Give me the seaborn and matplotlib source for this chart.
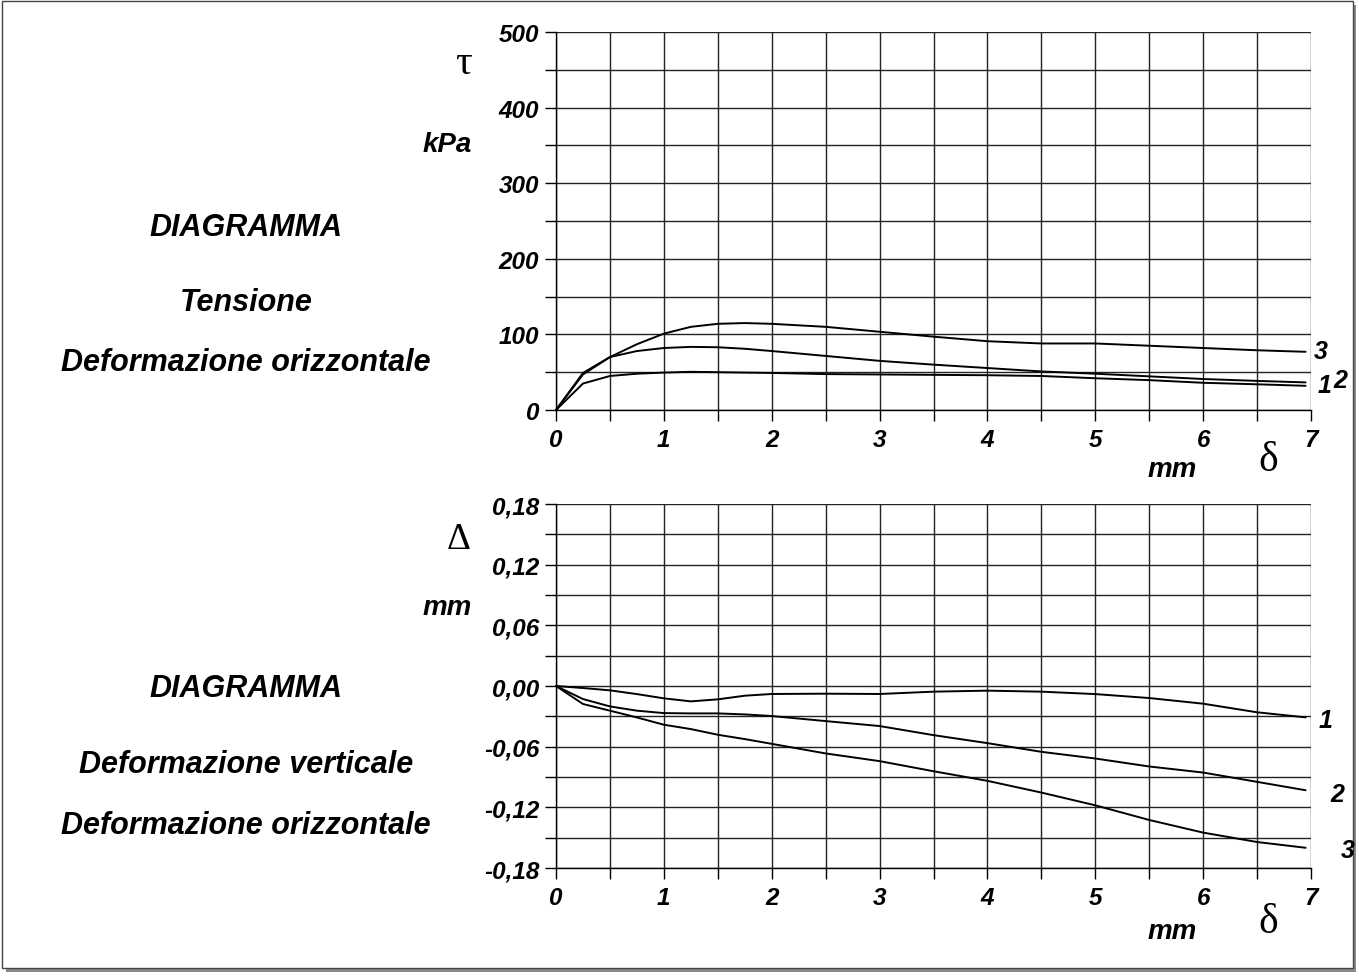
import matplotlib
matplotlib.use("Agg")
import matplotlib.pyplot as plt
import seaborn as sns
import pandas as pd
from matplotlib.patches import Rectangle
from matplotlib.ticker import MultipleLocator, FixedLocator, FixedFormatter

# ---------------- data ----------------
delta_top = [0, 0.25, 0.5, 0.75, 1, 1.25, 1.5, 1.75, 2, 2.5, 3, 3.5, 4, 4.5, 5, 5.5, 6, 6.5, 6.95]
tau_1 = [0, 35, 45, 48, 49.5, 50.5, 50, 49.5, 49, 47.5, 47, 46.5, 46, 45, 42, 39.5, 36, 34, 32]
tau_2 = [0, 47, 70, 78, 82, 83.5, 83, 81, 78, 71.5, 65, 60, 55.5, 51, 48, 44.5, 41, 38.5, 36.5]
tau_3 = [0, 49, 70, 87, 101, 110, 114, 115, 114, 110, 103.5, 97, 91, 88, 88, 85, 82, 79, 77]

delta_bot = [0, 0.25, 0.5, 0.75, 1, 1.25, 1.5, 1.75, 2, 2.5, 3, 3.5, 4, 4.5, 5, 5.5, 6, 6.5, 6.95]
dv_1 = [0, -0.002, -0.0043, -0.008, -0.0122, -0.0152, -0.0132, -0.0096, -0.0079, -0.0076, -0.0079,
        -0.0056, -0.0046, -0.0056, -0.008, -0.0119, -0.0175, -0.026, -0.031]
dv_2 = [0, -0.0129, -0.0202, -0.0244, -0.0268, -0.0271, -0.0271, -0.0281, -0.0297, -0.0347, -0.0396,
        -0.0486, -0.0565, -0.0651, -0.0717, -0.0796, -0.0856, -0.0948, -0.1031]
dv_3 = [0, -0.0178, -0.0244, -0.0311, -0.0383, -0.0426, -0.0482, -0.0525, -0.0572, -0.0667, -0.0743,
        -0.0843, -0.0938, -0.1054, -0.118, -0.1325, -0.145, -0.1543, -0.16]

x_ticks = [0, 1, 2, 3, 4, 5, 6, 7]
x_labels = ["0", "1", "2", "3", "4", "5", "6", "7"]
tau_ticks = [0, 100, 200, 300, 400, 500]
tau_labels = ["0", "100", "200", "300", "400", "500"]
dv_ticks = [-0.18, -0.12, -0.06, 0.0, 0.06, 0.12, 0.18]
dv_labels = ["-0,18", "-0,12", "-0,06", "0,00", "0,06", "0,12", "0,18"]
series_names = ["1", "2", "3"]

# ---------------- style ----------------
sns.set_style("white")
plt.rcParams['font.family'] = ['Liberation Sans', 'DejaVu Sans']
plt.rcParams['font.weight'] = 'bold'
plt.rcParams['font.style'] = 'italic'
for k in ["text.color", "axes.labelcolor", "xtick.color", "ytick.color", "axes.edgecolor"]:
    plt.rcParams[k] = "black"

W, H = 1359, 978
fig = plt.figure(figsize=(W / 100, H / 100), dpi=100)
fig.patch.set_facecolor("white")

def fx(px):
    return px / W

def fy(py):
    return 1 - py / H

# frame with shadow (behind the axes)
fig.patches.append(Rectangle((fx(6), fy(973)), fx(1350), 967 / H, transform=fig.transFigure,
                             facecolor="#8a8a8a", edgecolor="none", zorder=-3))
fig.patches.append(Rectangle((fx(1.5), fy(969)), fx(1351), 967.5 / H, transform=fig.transFigure,
                             facecolor="white", edgecolor="#444444", lw=1.0, zorder=-2))

ax_top = fig.add_axes([fx(556), fy(411), fx(1311) - fx(556), (411 - 33) / H])
ax_bot = fig.add_axes([fx(556), fy(869), fx(1311) - fx(556), (869 - 505) / H])

df_top = pd.DataFrame({
    "delta": delta_top * 3,
    "tau": tau_1 + tau_2 + tau_3,
    "curve": [n for n in series_names for _ in delta_top],
})
df_bot = pd.DataFrame({
    "delta": delta_bot * 3,
    "dv": dv_1 + dv_2 + dv_3,
    "curve": [n for n in series_names for _ in delta_bot],
})
pal = {n: "black" for n in series_names}

sns.lineplot(data=df_top, x="delta", y="tau", hue="curve", palette=pal, ax=ax_top,
             legend=False, lw=1.4, estimator=None, sort=False, zorder=5)
sns.lineplot(data=df_bot, x="delta", y="dv", hue="curve", palette=pal, ax=ax_bot,
             legend=False, lw=1.4, estimator=None, sort=False, zorder=5)

TICK_FS = 17.5

for ax, yt, yl, ylim, ystep in [(ax_top, tau_ticks, tau_labels, (0, 500), 50),
                                (ax_bot, dv_ticks, dv_labels, (-0.18, 0.18), 0.03)]:
    ax.set_xlim(0, 7)
    ax.set_ylim(*ylim)
    ax.set_xlabel("")
    ax.set_ylabel("")
    ax.set_facecolor("none")
    ax.xaxis.set_major_locator(FixedLocator(x_ticks))
    ax.xaxis.set_major_formatter(FixedFormatter(x_labels))
    ax.xaxis.set_minor_locator(MultipleLocator(0.5))
    ax.yaxis.set_major_locator(FixedLocator(yt))
    ax.yaxis.set_major_formatter(FixedFormatter(yl))
    ax.yaxis.set_minor_locator(MultipleLocator(ystep))
    ax.tick_params(which="both", direction="out", length=8, width=1, color="black",
                   bottom=True, left=True)
    ax.tick_params(axis="x", which="major", pad=5)
    ax.tick_params(axis="y", which="major", pad=4)
    ax.grid(True, which="both", color="#222222", lw=1.0)
    ax.set_axisbelow(True)
    for lab in ax.get_xticklabels() + ax.get_yticklabels():
        lab.set_fontsize(TICK_FS)
        lab.set_fontweight("bold")
        lab.set_fontstyle("italic")
        lab.set_color("black")
    for s in ["top", "right"]:
        ax.spines[s].set_visible(False)
    for s in ["left", "bottom"]:
        ax.spines[s].set_visible(True)
        ax.spines[s].set_color("black")
        ax.spines[s].set_linewidth(1.0)
    for line in ax.get_lines():
        line.set_clip_on(False)

# curve labels
lab_font = dict(fontsize=18, fontweight="bold", fontstyle="italic", ha="center", va="center")
fig.text(fx(1321), fy(352), "3", **lab_font)
fig.text(fx(1325), fy(386), "1", **lab_font)
fig.text(fx(1340), fy(381), "2", **lab_font)
fig.text(fx(1326), fy(721), "1", **lab_font)
fig.text(fx(1337), fy(795), "2", **lab_font)
fig.text(fx(1348), fy(851), "3", **lab_font)

# units and symbols
unit_font = dict(fontsize=20, fontweight="bold", fontstyle="italic", ha="center", va="center")
fig.text(fx(447), fy(145), "kPa", **unit_font)
fig.text(fx(447), fy(608), "mm", **unit_font)
fig.text(fx(1172), fy(470), "mm", **unit_font)
fig.text(fx(1172), fy(932), "mm", **unit_font)

greek = dict(family=["Liberation Serif", "DejaVu Serif"], fontweight="normal", fontstyle="normal",
             ha="center", va="center")
fig.text(fx(463), fy(64), "τ", fontsize=30, **greek)
fig.text(fx(459), fy(540), "Δ", fontsize=27, **greek)
fig.text(fx(1268), fy(461), "δ", fontsize=30, **greek)
fig.text(fx(1268), fy(923), "δ", fontsize=30, **greek)

# left titles
title_font = dict(fontsize=22, fontweight="bold", fontstyle="italic", ha="center", va="center")
fig.text(fx(246), fy(228), "DIAGRAMMA", **title_font)
fig.text(fx(246), fy(303), "Tensione", **title_font)
fig.text(fx(246), fy(363), "Deformazione orizzontale", **title_font)
fig.text(fx(246), fy(689), "DIAGRAMMA", **title_font)
fig.text(fx(246), fy(765), "Deformazione verticale", **title_font)
fig.text(fx(246), fy(826), "Deformazione orizzontale", **title_font)

fig.savefig("out.png", dpi=100, facecolor="white")
